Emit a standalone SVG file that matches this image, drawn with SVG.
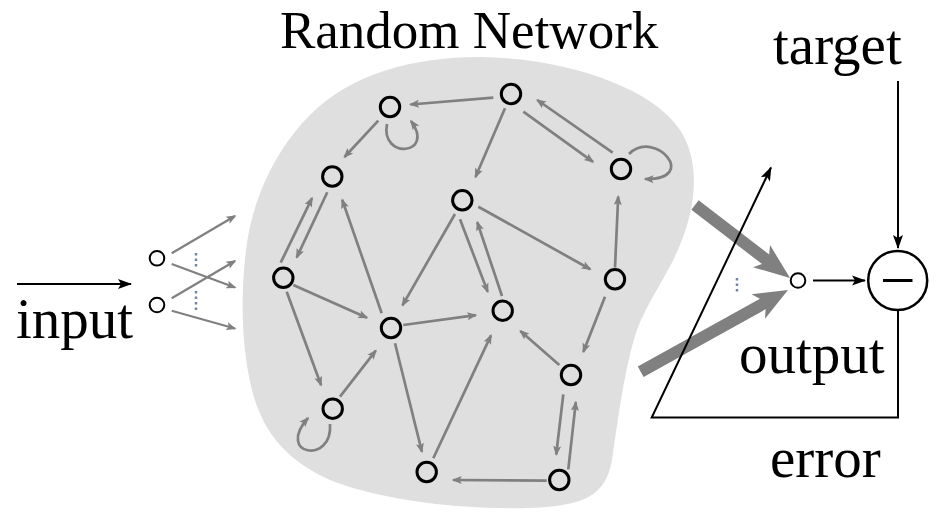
<svg xmlns="http://www.w3.org/2000/svg" width="945" height="528" viewBox="0 0 945 528">
  <style>
    .lbl { font-family: "Liberation Serif", "Times New Roman", serif; font-size: 57px; fill: #000; }
    .title { font-family: "Liberation Serif", "Times New Roman", serif; font-size: 53px; fill: #000; }
    .e { fill: none; stroke: #808080; stroke-width: 2.7; marker-end: url(#ag); }
    .ei { fill: none; stroke: #808080; stroke-width: 2.2; marker-end: url(#ag); }
    .bk { fill: none; stroke: #000; stroke-width: 2; }
    .n { fill: none; stroke: #000; stroke-width: 3; }
    .sn { fill: #fff; stroke: #000; stroke-width: 2; }
    .dots { stroke: #7585a8; stroke-width: 2.5; stroke-dasharray: 2.5 3; }
    .thick { stroke: #808080; stroke-width: 12; }
  </style>
  <defs>
    <marker id="ag" markerUnits="userSpaceOnUse" viewBox="-12 -5 14 10" markerWidth="14" markerHeight="10" refX="-1.5" refY="0" orient="auto">
      <path d="M0,0 L-10,-4 L-8,0 L-10,4 Z" fill="#808080"/>
    </marker>
    <marker id="ab" markerUnits="userSpaceOnUse" viewBox="-16 -6 18 12" markerWidth="18" markerHeight="12" refX="-1" refY="0" orient="auto">
      <path d="M0,0 L-14,-5 L-11,0 L-14,5 Z" fill="#000"/>
    </marker>
  </defs>

  <rect width="945" height="528" fill="#fff"/>

  <g id="reservoir">
    <path d="M 480,57 C 560,58 650,85 680,130 C 700,160 697,205 680,245 C 668,275 648,300 637,330 C 625,365 618,420 612,460 C 606,495 585,506 530,508 C 460,510 380,500 330,480 C 285,460 262,430 252,390 C 242,350 240,300 246,250 C 252,200 275,150 310,115 C 350,75 410,57 480,57 Z" fill="#dfdfdf"/>
  </g>

  <g id="texts">
    <text class="title" x="280" y="48">Random Network</text>
    <text class="lbl" x="16" y="338">input</text>
    <text class="lbl" x="773" y="64">target</text>
    <text class="lbl" x="739" y="373">output</text>
    <text class="lbl" x="770" y="477">error</text>
  </g>

  <g id="connectors">
    <!-- input side -->
    <line class="bk" x1="17" y1="284" x2="131" y2="284" marker-end="url(#ab)"/>
    <line class="ei" x1="171.7" y1="253.3" x2="235" y2="216"/>
    <line class="ei" x1="171.7" y1="264" x2="235" y2="287.5"/>
    <line class="ei" x1="171.7" y1="298.3" x2="235" y2="261"/>
    <line class="ei" x1="171.7" y1="310.7" x2="235" y2="328.5"/>
    <line class="dots" x1="196" y1="253" x2="196" y2="268"/>
    <line class="dots" x1="196" y1="291" x2="196" y2="313"/>

    <!-- network edges -->
    <line class="e" x1="493.3" y1="97.7" x2="410.5" y2="104.5"/>
    <line class="e" x1="378.3" y1="120.7" x2="344.5" y2="157"/>
    <line class="e" x1="505" y1="108.3" x2="475.5" y2="177"/>
    <line class="e" x1="523.3" y1="111.7" x2="593" y2="161.8"/>
    <line class="e" x1="612.7" y1="152.7" x2="537.3" y2="100"/>
    <line class="e" x1="615" y1="267.5" x2="618.2" y2="196.5"/>
    <line class="e" x1="478.3" y1="206.7" x2="590.3" y2="269.2"/>
    <line class="e" x1="455" y1="214" x2="402.5" y2="305.3"/>
    <line class="e" x1="460" y1="219.3" x2="487.7" y2="291.8"/>
    <line class="e" x1="502" y1="296" x2="477.3" y2="222.2"/>
    <line class="e" x1="327.3" y1="192.3" x2="296.7" y2="257.5"/>
    <line class="e" x1="280.7" y1="262.7" x2="312" y2="198.2"/>
    <line class="e" x1="381.7" y1="313.3" x2="342.2" y2="199.8"/>
    <line class="e" x1="293.3" y1="285" x2="366.9" y2="317.7"/>
    <line class="e" x1="286.7" y1="291.7" x2="321.1" y2="385.2"/>
    <line class="e" x1="340" y1="396.7" x2="375.8" y2="350.6"/>
    <line class="e" x1="403.3" y1="325" x2="475.8" y2="315.2"/>
    <line class="e" x1="395" y1="343.3" x2="421.9" y2="451.8"/>
    <line class="e" x1="433.3" y1="458.3" x2="491" y2="335.4"/>
    <line class="e" x1="605" y1="296.7" x2="583.3" y2="351.9"/>
    <line class="e" x1="559.3" y1="365" x2="520.4" y2="331"/>
    <line class="e" x1="563.3" y1="394.3" x2="556.2" y2="454.5"/>
    <line class="e" x1="568.3" y1="469.3" x2="575.8" y2="402.2"/>
    <line class="e" x1="546.7" y1="480.7" x2="453.2" y2="480"/>
    <!-- self loops -->
    <path class="e" d="M 387,124 C 380,160 436,155 411,121"/>
    <path class="e" d="M 629,154 C 655,128 700,180 645,179"/>
    <path class="e" d="M 330,424 C 333,465 275,455 308,418"/>

    <!-- readout -->
    <line class="thick" x1="695" y1="205" x2="769.6" y2="262.3"/>
    <polygon points="790,278 753,267.2 768.6,261.6 770,245" fill="#808080"/>
    <line class="thick" x1="640.7" y1="371.7" x2="767" y2="301.6"/>
    <polygon points="788,290 765,318.8 766.1,302.1 751.5,294.3" fill="#808080"/>
    <line class="dots" x1="737" y1="278" x2="737" y2="293"/>

    <line class="bk" x1="813" y1="280.5" x2="865" y2="280.5" marker-end="url(#ab)"/>
    <line class="bk" x1="898" y1="81" x2="898" y2="248" marker-end="url(#ab)"/>
    <polyline class="bk" points="898,310 898,417.5 651.7,417.5 771,167.5" marker-end="url(#ab)"/>
  </g>

  <g id="nodes">
    <g id="in1"><circle class="sn" cx="157" cy="258.3" r="7.3"/></g>
    <g id="in2"><circle class="sn" cx="157" cy="305" r="7.3"/></g>
    <g id="nA"><circle class="n" cx="390" cy="107" r="9.7"/></g>
    <g id="nB"><circle class="n" cx="511" cy="94" r="9.7"/></g>
    <g id="nC"><circle class="n" cx="621" cy="169" r="9.7"/></g>
    <g id="nD"><circle class="n" cx="332.3" cy="176.5" r="9.7"/></g>
    <g id="nE"><circle class="n" cx="462.3" cy="200.3" r="9.7"/></g>
    <g id="nF"><circle class="n" cx="283.3" cy="277.8" r="9.7"/></g>
    <g id="nG"><circle class="n" cx="615" cy="279.3" r="9.7"/></g>
    <g id="nH"><circle class="n" cx="391" cy="328" r="9.7"/></g>
    <g id="nI"><circle class="n" cx="502.7" cy="310.7" r="9.7"/></g>
    <g id="nJ"><circle class="n" cx="571" cy="375" r="9.7"/></g>
    <g id="nK"><circle class="n" cx="332.7" cy="408.7" r="9.7"/></g>
    <g id="nL"><circle class="n" cx="426.7" cy="472" r="9.7"/></g>
    <g id="nM"><circle class="n" cx="559.3" cy="480" r="9.7"/></g>
    <g id="out"><circle class="sn" cx="798" cy="280.5" r="7.3"/></g>
    <g id="minus">
      <circle cx="897.7" cy="280.5" r="29.5" fill="#fff" stroke="#000" stroke-width="2.5"/>
      <line x1="883" y1="280.5" x2="912.5" y2="280.5" stroke="#000" stroke-width="3"/>
    </g>
  </g>
</svg>
